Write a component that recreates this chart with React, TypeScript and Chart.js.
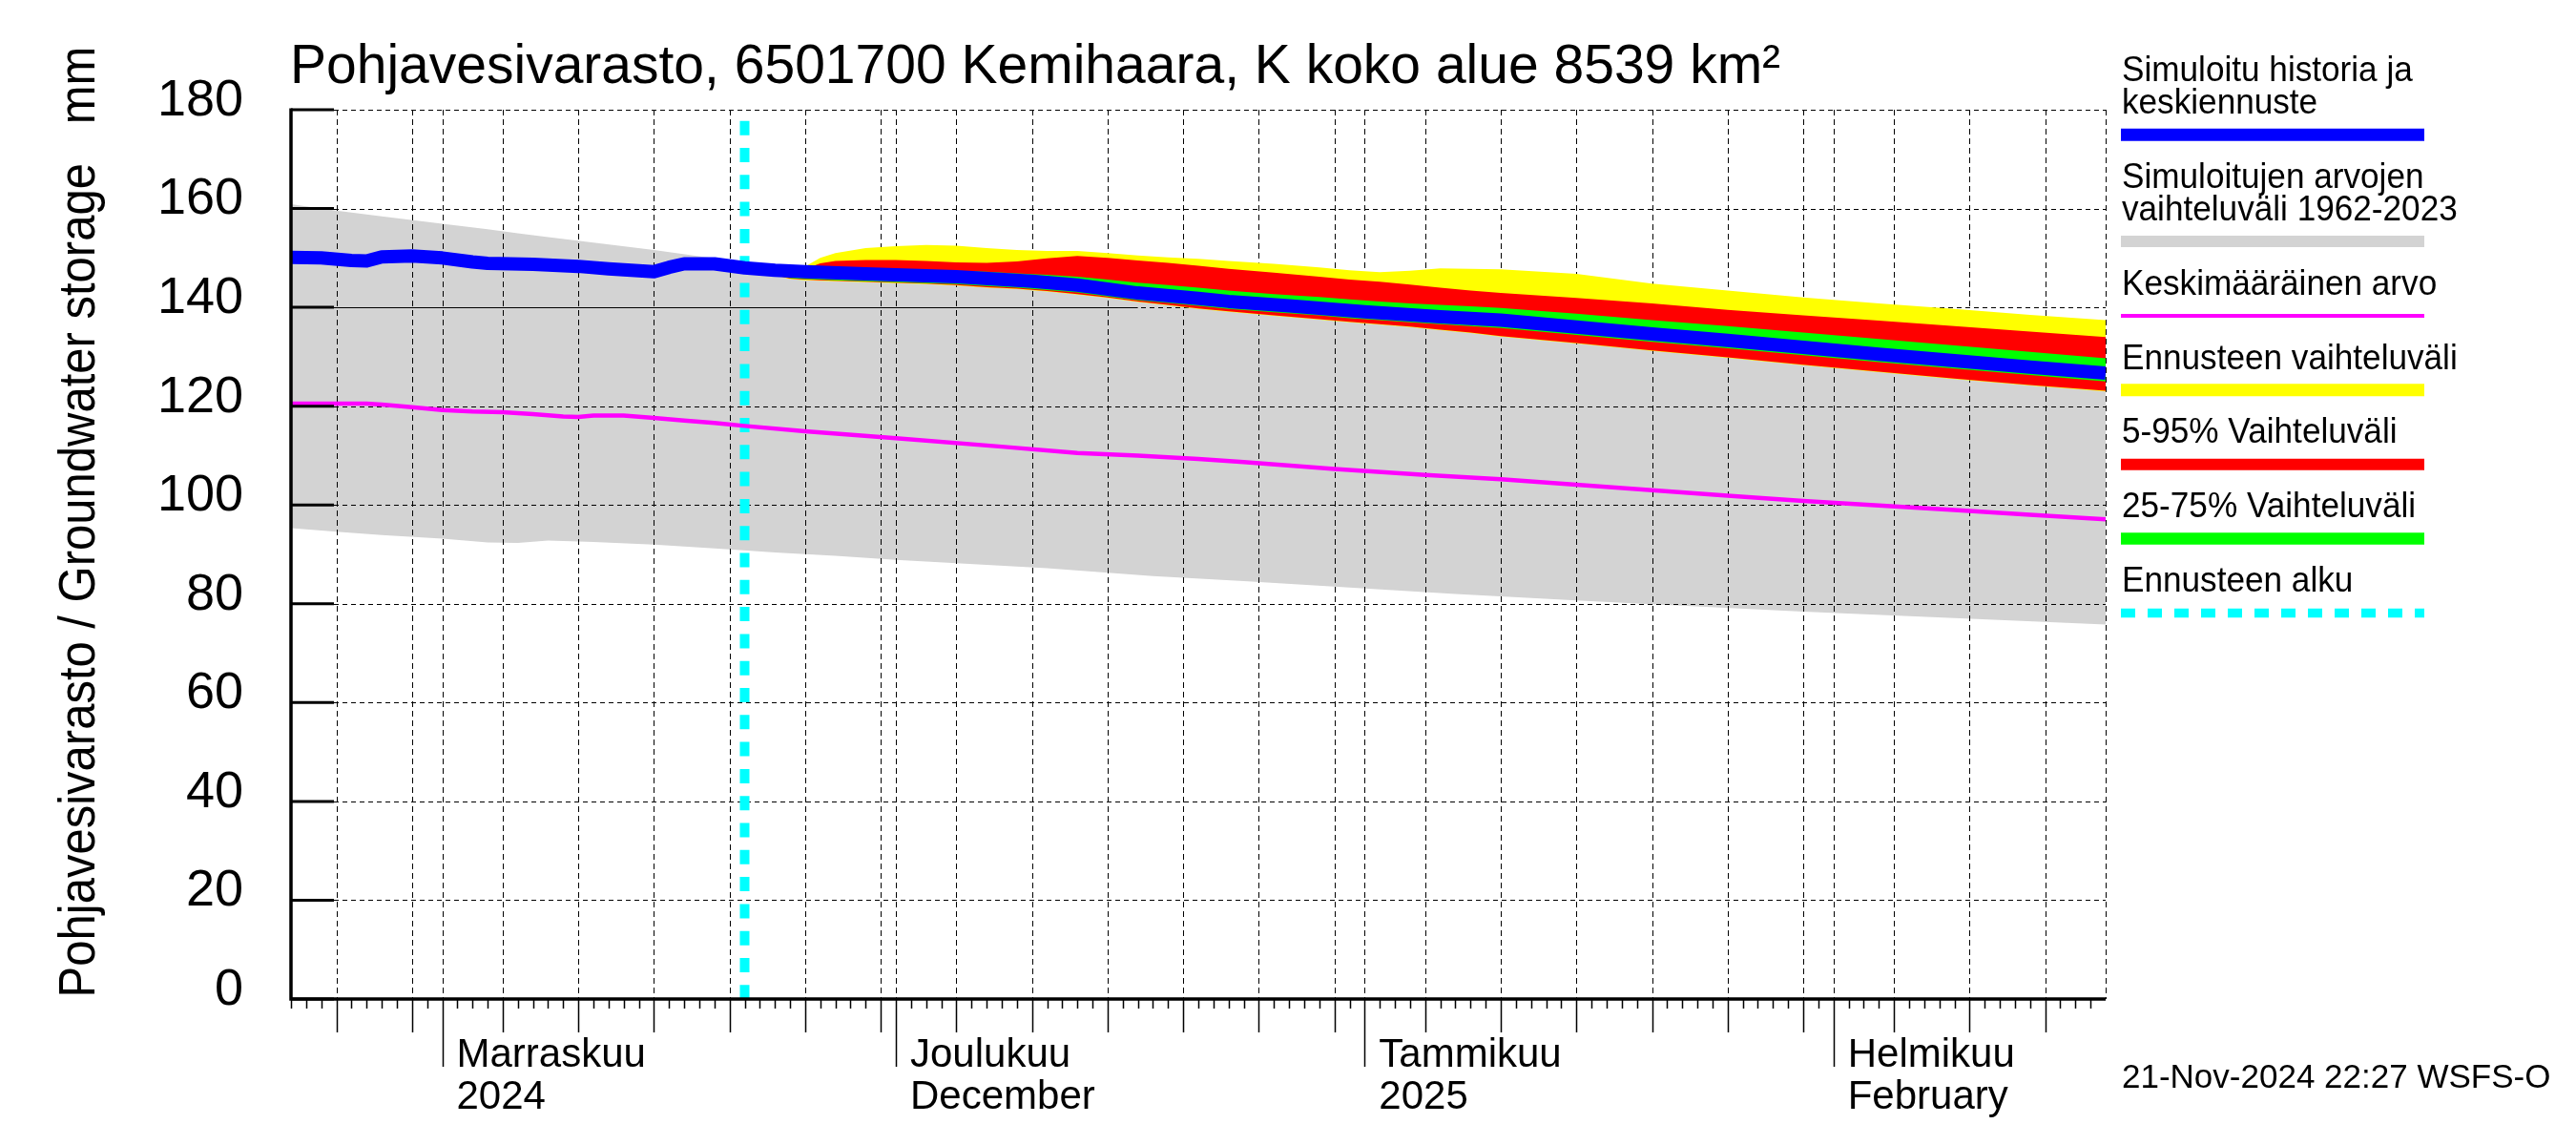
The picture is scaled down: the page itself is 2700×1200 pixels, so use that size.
import React, { useEffect, useRef } from 'react';
import { Chart, registerables } from 'chart.js';

Chart.register(...registerables);

const FONT = '"Liberation Sans", Arial, Helvetica, sans-serif';

// ---- texts ----
const TITLE = 'Pohjavesivarasto, 6501700 Kemihaara, K koko alue 8539 km²';
const Y_TITLE = 'Pohjavesivarasto / Groundwater storage   mm';
const STAMP = '21-Nov-2024 22:27 WSFS-O';
const LEGEND_LABELS = [
  ['Simuloitu historia ja', 'keskiennuste'],
  ['Simuloitujen arvojen', 'vaihteluväli 1962-2023'],
  ['Keskimääräinen arvo'],
  ['Ennusteen vaihteluväli'],
  ['5-95% Vaihteluväli'],
  ['25-75% Vaihteluväli'],
  ['Ennusteen alku'],
];

// ---- axes (x = days since 22 Oct 2024) ----
const X_MIN_DAY = 0;
const X_MAX_DAY = 120;
const FORECAST_START_DAY = 30;
const MONTH_DAYS = [10, 40, 71, 102];
const MONTH_LABELS = [
  ['Marraskuu', '2024'],
  ['Joulukuu', 'December'],
  ['Tammikuu', '2025'],
  ['Helmikuu', 'February'],
];
const FIVE_DAY_TICKS = [3, 8, 14, 19, 24, 29, 34, 39, 44, 49, 54, 59, 64, 69, 75, 80, 85, 90, 95, 100, 106, 111, 116];
const Y_TICKS = [0, 20, 40, 60, 80, 100, 120, 140, 160, 180];
const SOLID_GRID_VALUE = 140;
const SOLID_GRID_END_DAY = 56;

// ---- colours ----
const C_BLUE = '#0000ff';
const C_GREY = '#d3d3d3';
const C_MAGENTA = '#ff00ff';
const C_YELLOW = '#ffff00';
const C_RED = '#ff0000';
const C_GREEN = '#00ff00';
const C_CYAN = '#00ffff';

// ---- data ----
const GREY_DAYS = [0, 3, 6, 10, 13, 15, 17, 20, 24, 29, 32, 36, 40, 50, 57, 63, 70, 77, 85, 90, 100, 110, 120];
const GREY_MAX = [160.9, 159.6, 158.4, 156.9, 155.8, 155.0, 154.2, 153.1, 151.6, 149.5, 148.4, 147.5, 146.8, 144.6, 143.0, 141.6, 140.0, 138.3, 136.3, 135.0, 132.2, 129.0, 125.5];
const GREY_MIN = [95.3, 94.6, 93.9, 93.2, 92.4, 92.3, 92.8, 92.5, 92.0, 91.0, 90.4, 89.7, 88.9, 87.2, 85.6, 84.6, 83.3, 82.0, 80.7, 79.9, 78.4, 77.1, 75.8];

const BLUE_DAYS = [0, 2, 4, 5, 6, 8, 10, 12, 13, 16, 19, 21, 23, 24, 25, 26, 28, 30, 32, 34, 38, 40, 44, 49, 52, 56, 60, 62, 66, 71, 76, 80, 85, 90, 95, 100, 105, 110, 115, 120];
const BLUE_VALUES = [150.1, 150.0, 149.5, 149.4, 150.2, 150.4, 150.0, 149.2, 148.9, 148.7, 148.3, 147.8, 147.4, 147.2, 148.1, 148.8, 148.8, 148.0, 147.5, 147.2, 146.8, 146.6, 146.2, 145.3, 144.5, 142.9, 141.8, 141.2, 140.3, 139.1, 138.1, 137.4, 136.0, 134.6, 133.3, 131.9, 130.5, 129.2, 127.9, 126.7];

const MEAN_DAYS = [0, 5, 6, 8, 10, 12, 14, 16, 18, 19, 20, 22, 24, 26, 28, 30, 34, 40, 47, 52, 56, 60, 63, 69, 75, 80, 85, 90, 95, 100, 105, 110, 115, 120];
const MEAN_VALUES = [120.5, 120.5, 120.3, 119.8, 119.2, 118.9, 118.8, 118.4, 117.9, 117.8, 118.1, 118.1, 117.6, 117.1, 116.6, 116.0, 114.9, 113.5, 111.8, 110.5, 110.0, 109.3, 108.7, 107.3, 106.1, 105.2, 104.1, 103.0, 101.9, 100.8, 99.9, 99.0, 98.0, 97.1];

const FC_DAYS = [30, 33, 34, 35, 36, 38, 40, 42, 44, 46, 48, 50, 52, 54, 56, 58, 60, 62, 65, 68, 70, 72, 74, 76, 78, 80, 85, 90, 95, 100, 105, 110, 115, 120];
const YEL_MAX = [148.0, 147.8, 148.3, 150.0, 151.0, 152.0, 152.4, 152.6, 152.5, 152.0, 151.6, 151.4, 151.4, 151.0, 150.5, 150.1, 149.8, 149.4, 148.8, 148.1, 147.5, 147.1, 147.4, 147.9, 147.8, 147.7, 146.8, 144.8, 143.4, 142.0, 140.8, 139.7, 138.5, 137.4];
const YEL_MIN = [148.0, 145.7, 145.5, 145.4, 145.3, 145.1, 144.9, 144.7, 144.4, 144.0, 143.7, 143.2, 142.6, 141.9, 141.1, 140.4, 139.7, 139.1, 138.3, 137.5, 137.0, 136.5, 136.0, 135.4, 134.8, 134.1, 132.7, 131.2, 129.8, 128.3, 126.9, 125.5, 124.2, 123.0];
const RED_MAX = [148.0, 147.6, 147.8, 148.9, 149.4, 149.6, 149.6, 149.4, 149.1, 149.0, 149.3, 149.9, 150.4, 150.0, 149.5, 149.0, 148.4, 147.8, 147.0, 146.2, 145.6, 145.2, 144.6, 144.0, 143.4, 142.9, 141.9, 140.8, 139.5, 138.4, 137.3, 136.2, 135.1, 134.0];
const RED_MIN = [148.0, 145.8, 145.6, 145.5, 145.4, 145.2, 145.0, 144.8, 144.5, 144.1, 143.8, 143.3, 142.7, 142.0, 141.2, 140.5, 139.8, 139.2, 138.4, 137.6, 137.1, 136.6, 136.1, 135.5, 134.9, 134.2, 132.8, 131.3, 129.9, 128.4, 127.0, 125.6, 124.3, 123.1];
const GREEN_MAX = [148.0, 147.4, 147.3, 147.3, 147.3, 147.3, 147.5, 147.5, 147.4, 147.2, 146.9, 146.6, 146.2, 145.6, 145.0, 144.5, 144.0, 143.4, 142.7, 142.1, 141.6, 141.2, 140.8, 140.5, 140.2, 139.9, 138.7, 137.4, 136.2, 134.9, 133.6, 132.3, 131.0, 129.7];
const GREEN_MIN = [148.0, 145.9, 145.7, 145.6, 145.5, 145.3, 145.1, 144.9, 144.7, 144.3, 144.0, 143.5, 143.0, 142.2, 141.4, 140.9, 140.3, 139.7, 139.0, 138.4, 137.8, 137.4, 137.0, 136.6, 136.2, 135.8, 134.4, 133.0, 131.7, 130.3, 128.9, 127.6, 126.3, 125.0];

const pts = (days: number[], vals: number[]) => days.map((d, i) => ({ x: d, y: vals[i] }));

const LEGEND_STYLES = [
  { color: C_BLUE, width: 13, dash: [] as number[] },
  { color: C_GREY, width: 12, dash: [] as number[] },
  { color: C_MAGENTA, width: 4, dash: [] as number[] },
  { color: C_YELLOW, width: 13, dash: [] as number[] },
  { color: C_RED, width: 12, dash: [] as number[] },
  { color: C_GREEN, width: 12.5, dash: [] as number[] },
  { color: C_CYAN, width: 9.5, dash: [15, 13] },
];

const decorPlugin = {
  id: 'decor',
  afterDatasetDraw(chart: any, args: any) {
    if (args.index !== 0) return;
    const { ctx, chartArea: a } = chart;
    const xs = chart.scales.x;
    const ys = chart.scales.y;
    ctx.save();
    ctx.strokeStyle = '#000';
    ctx.lineWidth = 1;
    ctx.setLineDash([5, 4]);
    ctx.beginPath();
    Y_TICKS.forEach((v) => {
      if (v === 0) return;
      const py = Math.round(ys.getPixelForValue(v)) + 0.5;
      ctx.moveTo(a.left, py);
      ctx.lineTo(a.right, py);
    });
    ctx.stroke();
    ctx.setLineDash([6, 4]);
    ctx.beginPath();
    [...FIVE_DAY_TICKS, ...MONTH_DAYS, X_MAX_DAY].forEach((d) => {
      const px = Math.round(xs.getPixelForValue(d)) + 0.5;
      ctx.moveTo(px, a.top);
      ctx.lineTo(px, a.bottom);
    });
    ctx.stroke();
    ctx.setLineDash([]);
    ctx.beginPath();
    const p = Math.round(ys.getPixelForValue(SOLID_GRID_VALUE)) + 0.5;
    ctx.moveTo(a.left, p);
    ctx.lineTo(xs.getPixelForValue(SOLID_GRID_END_DAY), p);
    ctx.stroke();
    ctx.restore();
  },
  afterDatasetsDraw(chart: any) {
    const { ctx, chartArea: a } = chart;
    const xs = chart.scales.x;
    const ys = chart.scales.y;
    ctx.save();
    ctx.strokeStyle = '#000';
    ctx.setLineDash([]);
    ctx.lineWidth = 3;
    ctx.beginPath();
    Y_TICKS.forEach((v) => {
      const py = ys.getPixelForValue(v);
      ctx.moveTo(a.left, py);
      ctx.lineTo(a.left + 45, py);
    });
    ctx.stroke();
    ctx.lineWidth = 1.5;
    ctx.beginPath();
    for (let d = X_MIN_DAY; d < X_MAX_DAY; d++) {
      const px = Math.round(xs.getPixelForValue(d)) + 0.5;
      ctx.moveTo(px, a.bottom);
      ctx.lineTo(px, a.bottom + 10);
    }
    FIVE_DAY_TICKS.forEach((d) => {
      const px = Math.round(xs.getPixelForValue(d)) + 0.5;
      ctx.moveTo(px, a.bottom);
      ctx.lineTo(px, a.bottom + 35);
    });
    MONTH_DAYS.forEach((d) => {
      const px = Math.round(xs.getPixelForValue(d)) + 0.5;
      ctx.moveTo(px, a.bottom);
      ctx.lineTo(px, a.bottom + 71);
    });
    ctx.stroke();
    ctx.lineWidth = 3.5;
    ctx.beginPath();
    ctx.moveTo(a.left, a.top - 1.5);
    ctx.lineTo(a.left, a.bottom + 1.75);
    ctx.moveTo(a.left - 1.75, a.bottom);
    ctx.lineTo(a.right, a.bottom);
    ctx.stroke();
    ctx.restore();
  },
  afterDraw(chart: any) {
    const { ctx } = chart;
    ctx.save();
    ctx.fillStyle = '#000';
    ctx.textBaseline = 'alphabetic';
    ctx.textAlign = 'left';
    ctx.font = `57px ${FONT}`;
    ctx.fillText(TITLE, 304, 87);
    ctx.save();
    ctx.translate(99, 547);
    ctx.rotate(-Math.PI / 2);
    ctx.scale(1, 1.08);
    ctx.textAlign = 'center';
    ctx.font = `49px ${FONT}`;
    ctx.fillText(Y_TITLE, 0, 0);
    ctx.restore();
    ctx.textAlign = 'left';
    ctx.font = `35px ${FONT}`;
    ctx.fillText(STAMP, 2224, 1140);
    // legend
    ctx.font = `37px ${FONT}`;
    let y = 85;
    LEGEND_LABELS.forEach((lines, i) => {
      let last = y;
      lines.forEach((t, j) => {
        const by = y + j * 33.9;
        ctx.save();
        ctx.translate(2224, by);
        ctx.scale(0.95, 1);
        ctx.fillText(t, 0, 0);
        ctx.restore();
        last = by;
      });
      const sy = last + 22.3;
      const st = LEGEND_STYLES[i];
      ctx.save();
      ctx.strokeStyle = st.color;
      ctx.lineWidth = st.width;
      ctx.lineCap = 'butt';
      ctx.setLineDash(st.dash);
      ctx.beginPath();
      ctx.moveTo(2223, sy);
      ctx.lineTo(2541, sy);
      ctx.stroke();
      ctx.restore();
      y = sy + 55.6;
    });
    ctx.restore();
  },
};

export default function App() {
  const ref = useRef<HTMLCanvasElement>(null);
  useEffect(() => {
    document.body.style.margin = '0';
    document.body.style.overflow = 'hidden';
    document.body.style.background = '#fff';
    const band = (data: any, color: string, fillTo: number | false, order: number) => ({
      data,
      borderColor: 'rgba(0,0,0,0)',
      borderWidth: 1,
      backgroundColor: color,
      fill: fillTo === false ? false : fillTo,
      pointRadius: 0,
      order,
    });
    const chart = new Chart(ref.current as HTMLCanvasElement, {
      type: 'line',
      data: {
        datasets: [
          band(pts(GREY_DAYS, GREY_MAX), C_GREY, 1, 20),
          band(pts(GREY_DAYS, GREY_MIN), C_GREY, false, 21),
          band(pts(FC_DAYS, YEL_MAX), C_YELLOW, 3, 18),
          band(pts(FC_DAYS, YEL_MIN), C_YELLOW, false, 19),
          band(pts(FC_DAYS, RED_MAX), C_RED, 5, 16),
          band(pts(FC_DAYS, RED_MIN), C_RED, false, 17),
          band(pts(FC_DAYS, GREEN_MAX), C_GREEN, 7, 14),
          band(pts(FC_DAYS, GREEN_MIN), C_GREEN, false, 15),
          {
            data: pts(MEAN_DAYS, MEAN_VALUES),
            borderColor: C_MAGENTA,
            borderWidth: 4.5,
            pointRadius: 0,
            fill: false,
            order: 12,
          },
          {
            data: pts(BLUE_DAYS, BLUE_VALUES),
            borderColor: C_BLUE,
            borderWidth: 14,
            borderJoinStyle: 'round',
            pointRadius: 0,
            fill: false,
            order: 11,
          },
          {
            data: [
              { x: FORECAST_START_DAY, y: 180 },
              { x: FORECAST_START_DAY, y: 0 },
            ],
            borderColor: C_CYAN,
            borderWidth: 10,
            borderDash: [15, 13.3],
            borderDashOffset: 16.6,
            pointRadius: 0,
            fill: false,
            order: 13,
          },
        ],
      },
      options: {
        responsive: false,
        devicePixelRatio: 1,
        animation: false,
        events: [],
        layout: { padding: { top: 115, right: 493, left: 0, bottom: 0 } },
        elements: { line: { tension: 0 }, point: { radius: 0 } },
        plugins: {
          legend: { display: false },
          title: { display: false },
          tooltip: { enabled: false },
        },
        scales: {
          x: {
            type: 'linear',
            position: 'bottom',
            min: X_MIN_DAY,
            max: X_MAX_DAY,
            grid: { display: false, drawTicks: false },
            border: { display: false },
            afterBuildTicks: (scale: any) => {
              scale.ticks = MONTH_DAYS.map((v) => ({ value: v }));
            },
            afterFit: (scale: any) => {
              scale.height = 153;
            },
            ticks: {
              autoSkip: false,
              maxRotation: 0,
              minRotation: 0,
              align: 'start',
              labelOffset: 15,
              padding: 37,
              color: '#000',
              font: { family: FONT, size: 42, lineHeight: 1.055 },
              callback: (_v: any, i: number) => MONTH_LABELS[i],
            },
          },
          y: {
            type: 'linear',
            min: 0,
            max: 180,
            grid: { display: false, drawTicks: false },
            border: { display: false },
            afterBuildTicks: (scale: any) => {
              scale.ticks = Y_TICKS.map((v) => ({ value: v }));
            },
            afterFit: (scale: any) => {
              scale.width = 305;
            },
            ticks: {
              padding: 50,
              labelOffset: -9,
              color: '#000',
              font: { family: FONT, size: 54 },
              callback: (v: any) => String(v),
            },
          },
        },
      },
      plugins: [decorPlugin],
    } as any);
    return () => chart.destroy();
  }, []);
  return (
    <div style={{ position: 'fixed', left: 0, top: 0, width: 2700, height: 1200, background: '#fff' }}>
      <canvas ref={ref} width={2700} height={1200} style={{ display: 'block', width: 2700, height: 1200 }} />
    </div>
  );
}
